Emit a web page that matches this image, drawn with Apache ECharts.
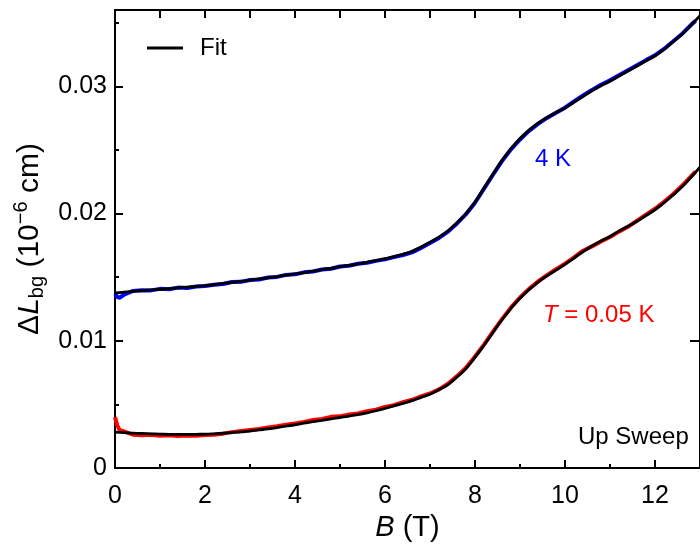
<!DOCTYPE html>
<html>
<head>
<meta charset="utf-8">
<script src="https://cdn.jsdelivr.net/npm/echarts@6/dist/echarts.min.js"></script>
<style>html,body{margin:0;padding:0;background:#fff;}#c{width:700px;height:550px;}</style>
</head>
<body>
<div id="c"></div>
<script>
// Field values B (T) for the measured curves
const rawB = [0,0.05,0.1,0.2,0.4,0.6,0.8,1.0,1.2,1.4,1.6,1.8,2.0,2.2,2.4,2.6,2.8,3.0,3.2,3.4,3.6,3.8,4.0,4.2,4.4,4.6,4.8,5.0,5.2,5.4,5.6,5.8,6.0,6.2,6.4,6.6,6.8,7.0,7.2,7.4,7.6,7.8,8.0,8.2,8.4,8.6,8.8,9.0,9.2,9.4,9.6,9.8,10.0,10.2,10.4,10.6,10.8,11.0,11.2,11.4,11.6,11.8,12.0,12.2,12.4,12.6,12.8,12.9];
// 4 K measured data (blue)
const blue4K = [0.01370,0.01345,0.01338,0.01362,0.01392,0.01398,0.01396,0.01408,0.01405,0.01418,0.01414,0.01426,0.01430,0.01440,0.01446,0.01462,0.01463,0.01478,0.01482,0.01497,0.01502,0.01518,0.01522,0.01538,0.01544,0.01560,0.01566,0.01584,0.01590,0.01606,0.01613,0.01628,0.01640,0.01658,0.01674,0.01695,0.01730,0.01768,0.01808,0.01858,0.01922,0.01995,0.02085,0.02195,0.02305,0.02412,0.02505,0.02582,0.02650,0.02705,0.02752,0.02792,0.02832,0.02882,0.02928,0.02972,0.03012,0.03048,0.03088,0.03126,0.03166,0.03206,0.03244,0.03294,0.03352,0.03412,0.03482,0.03516];
// T = 0.05 K measured data (red)
const red005K = [0.00400,0.00335,0.00300,0.00288,0.00262,0.00258,0.00262,0.00254,0.00258,0.00252,0.00256,0.00254,0.00260,0.00262,0.00270,0.00282,0.00290,0.00298,0.00306,0.00318,0.00328,0.00340,0.00350,0.00362,0.00378,0.00386,0.00402,0.00406,0.00420,0.00428,0.00446,0.00458,0.00480,0.00494,0.00518,0.00536,0.00562,0.00586,0.00618,0.00662,0.00722,0.00788,0.00876,0.00970,0.01072,0.01170,0.01262,0.01340,0.01408,0.01466,0.01516,0.01562,0.01606,0.01656,0.01708,0.01742,0.01780,0.01816,0.01858,0.01896,0.01944,0.01992,0.02038,0.02092,0.02152,0.02218,0.02292,0.02330];
// Fit curves
const fitB = [0,0.2,0.4,0.6,0.8,1.0,1.2,1.4,1.6,1.8,2.0,2.2,2.4,2.6,2.8,3.0,3.2,3.4,3.6,3.8,4.0,4.2,4.4,4.6,4.8,5.0,5.2,5.4,5.6,5.8,6.0,6.2,6.4,6.6,6.8,7.0,7.2,7.4,7.6,7.8,8.0,8.2,8.4,8.6,8.8,9.0,9.2,9.4,9.6,9.8,10.0,10.2,10.4,10.6,10.8,11.0,11.2,11.4,11.6,11.8,12.0,12.2,12.4,12.6,12.8,13.0];
const fitBlue = [0.01376,0.01383,0.01389,0.01395,0.01400,0.01405,0.01410,0.01416,0.01422,0.01428,0.01433,0.01442,0.01451,0.01459,0.01468,0.01476,0.01486,0.01495,0.01505,0.01515,0.01525,0.01536,0.01547,0.01559,0.01570,0.01582,0.01593,0.01604,0.01617,0.01631,0.01645,0.01662,0.01680,0.01704,0.01738,0.01775,0.01815,0.01865,0.01928,0.02000,0.02090,0.02200,0.02310,0.02418,0.02510,0.02590,0.02655,0.02710,0.02755,0.02795,0.02830,0.02875,0.02920,0.02965,0.03005,0.03040,0.03080,0.03120,0.03160,0.03200,0.03240,0.03290,0.03350,0.03410,0.03480,0.03555];
const fitRed = [0.00282,0.00278,0.00274,0.00271,0.00269,0.00267,0.00265,0.00264,0.00264,0.00265,0.00266,0.00269,0.00273,0.00278,0.00284,0.00290,0.00299,0.00308,0.00318,0.00329,0.00340,0.00352,0.00364,0.00375,0.00386,0.00397,0.00408,0.00420,0.00434,0.00450,0.00468,0.00488,0.00508,0.00530,0.00555,0.00580,0.00615,0.00655,0.00715,0.00781,0.00870,0.00965,0.01065,0.01165,0.01255,0.01335,0.01402,0.01460,0.01510,0.01555,0.01600,0.01650,0.01700,0.01745,0.01785,0.01820,0.01862,0.01900,0.01940,0.01985,0.02030,0.02085,0.02145,0.02210,0.02285,0.02365];
const xTicks = {min: 0, max: 13, major: 2, minor: 1};
const yTicks = {min: 0, max: 0.036, major: 0.01, minor: 0.005};

const FF = '"Liberation Sans", Arial, sans-serif';
const zip = (xs, ys) => xs.map((x, i) => [x, ys[i]]);
const black = '#000';
const lineS = {color: black, width: 2};

const chart = echarts.init(document.getElementById('c'), null, {renderer: 'canvas'});
chart.setOption({
  animation: false,
  backgroundColor: '#fff',
  grid: {left: 115, top: 10, bottom: 82, right: -7, containLabel: false},
  legend: {
    data: [{name: 'Fit', icon: 'rect'}],
    left: 142, top: 31,
    itemWidth: 36, itemHeight: 3,
    textStyle: {fontSize: 24, fontFamily: FF, color: black, padding: [0, 0, 0, 12]},
    itemStyle: {color: black}
  },
  xAxis: [
    {type: 'value', position: 'bottom', min: xTicks.min, max: xTicks.max, interval: xTicks.major,
     axisLine: {show: true, onZero: false, lineStyle: lineS},
     axisTick: {show: true, inside: true, length: 8, lineStyle: lineS},
     axisLabel: {fontSize: 25, fontFamily: FF, color: black, margin: 16, showMaxLabel: false},
     splitLine: {show: false},
     name: '{i|B} {n|(T)}', nameLocation: 'middle', nameGap: 38,
     nameTextStyle: {fontSize: 29, fontFamily: FF, color: black,
       rich: {i: {fontSize: 29, fontFamily: FF, fontStyle: 'italic', color: black},
              n: {fontSize: 29, fontFamily: FF, color: black}}}},
    {type: 'value', position: 'bottom', min: xTicks.min, max: xTicks.max, interval: xTicks.minor,
     axisLine: {show: false, onZero: false}, axisTick: {show: true, inside: true, length: 4, lineStyle: lineS},
     axisLabel: {show: false}, splitLine: {show: false}},
    {type: 'value', position: 'top', min: xTicks.min, max: xTicks.max, interval: xTicks.minor,
     axisLine: {show: true, onZero: false, lineStyle: lineS}, axisTick: {show: true, inside: true, length: 8, lineStyle: lineS},
     axisLabel: {show: false}, splitLine: {show: false}}
  ],
  yAxis: [
    {type: 'value', position: 'left', min: yTicks.min, max: yTicks.max, interval: yTicks.major,
     axisLine: {show: true, onZero: false, lineStyle: lineS},
     axisTick: {show: true, inside: true, length: 8, lineStyle: lineS},
     axisLabel: {fontSize: 25, fontFamily: FF, color: black, margin: 8, showMaxLabel: false},
     splitLine: {show: false},
     name: '{n|\u0394}{i|L}{sub|bg}{n| (10}{sup|\u22126}{n| cm)}', nameLocation: 'middle', nameGap: 60,
     nameTextStyle: {fontSize: 30, fontFamily: FF, color: black, lineHeight: 36,
       rich: {n: {fontSize: 30, fontFamily: FF, color: black, lineHeight: 36},
              i: {fontSize: 30, fontFamily: FF, color: black, fontStyle: 'italic', lineHeight: 36},
              sub: {fontSize: 20, fontFamily: FF, color: black, verticalAlign: 'bottom', lineHeight: 36, padding: [11, 0, 0, 0]},
              sup: {fontSize: 20, fontFamily: FF, color: black, verticalAlign: 'top', lineHeight: 36, padding: [0, 0, 11, 0]}}}},
    {type: 'value', position: 'left', min: yTicks.min, max: yTicks.max, interval: yTicks.minor,
     axisLine: {show: false, onZero: false}, axisTick: {show: true, inside: true, length: 4, lineStyle: lineS},
     axisLabel: {show: false}, splitLine: {show: false}},
    {type: 'value', position: 'right', min: yTicks.min, max: yTicks.max, interval: yTicks.major,
     axisLine: {show: true, onZero: false, lineStyle: lineS}, axisTick: {show: true, inside: true, length: 10, lineStyle: lineS},
     axisLabel: {show: false}, splitLine: {show: false}}
  ],
  series: [
    {type: 'line', name: '4 K', data: zip(rawB, blue4K), symbol: 'none', lineStyle: {color: '#0000ff', width: 4}, itemStyle: {color: '#0000ff'}, z: 2},
    {type: 'line', name: 'T = 0.05 K', data: zip(rawB, red005K), symbol: 'none', lineStyle: {color: '#ff0000', width: 4}, itemStyle: {color: '#ff0000'}, z: 2},
    {type: 'line', name: 'Fit', data: zip(fitB, fitBlue), symbol: 'none', smooth: 0.5, lineStyle: {color: black, width: 2.8}, itemStyle: {color: black}, z: 3},
    {type: 'line', name: 'Fit', data: zip(fitB, fitRed), symbol: 'none', smooth: 0.5, lineStyle: {color: black, width: 2.8}, itemStyle: {color: black}, z: 3}
  ],
  graphic: [
    {type: 'text', x: 535, y: 159, style: {text: '4 K', fill: '#0000ff', font: '24px ' + FF, verticalAlign: 'middle'}},
    {type: 'text', x: 543, y: 315, style: {text: '{i|T} = 0.05 K', fill: '#ff0000', font: '24px ' + FF, verticalAlign: 'middle',
      rich: {i: {fontStyle: 'italic', fontSize: 24, fontFamily: FF, fill: '#ff0000'}}}},
    {type: 'text', x: 578, y: 437, style: {text: 'Up Sweep', fill: black, font: '24px ' + FF, verticalAlign: 'middle'}}
  ]
});
</script>
</body>
</html>
